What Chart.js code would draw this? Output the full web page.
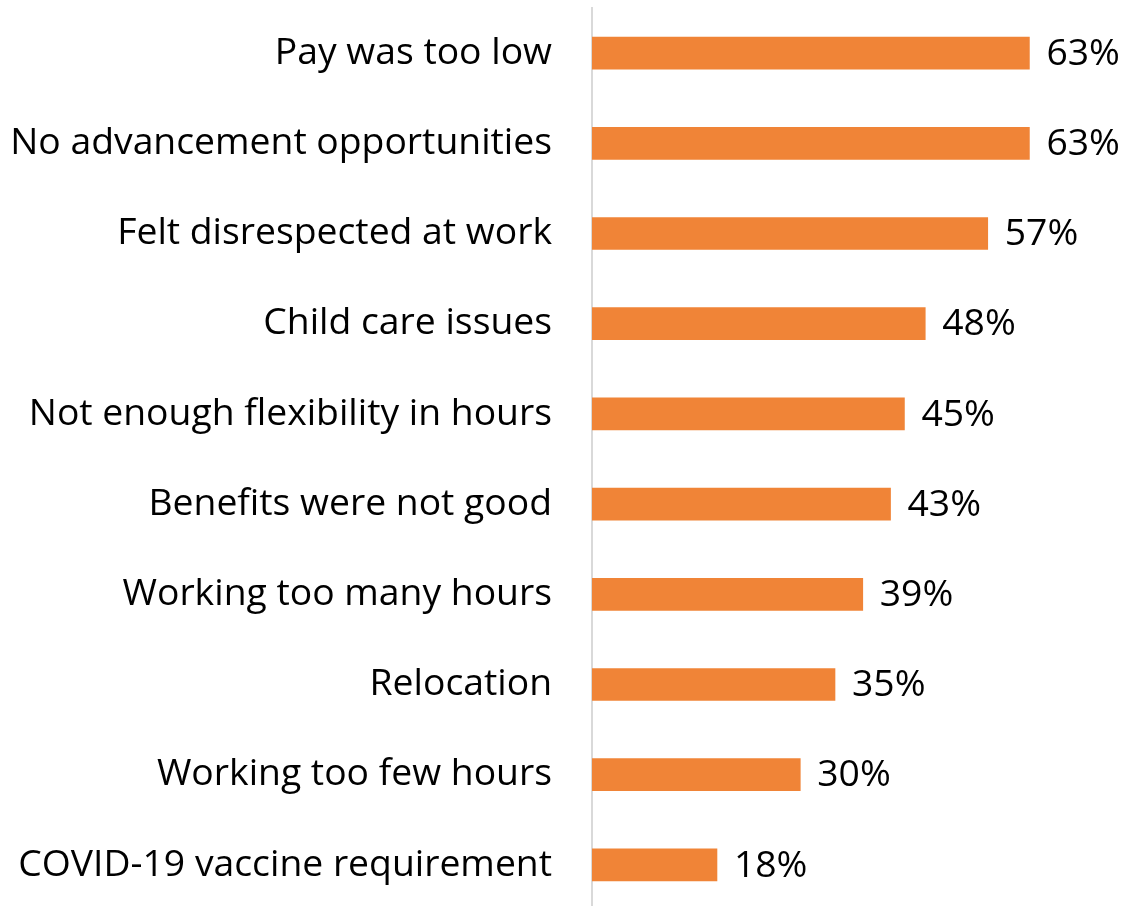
<!DOCTYPE html>
<html>
<head>
<meta charset="utf-8">
<script src="https://cdn.jsdelivr.net/npm/chart.js@4.4.1/dist/chart.umd.min.js"></script>
<style>
html,body{margin:0;padding:0;background:#fff;overflow:hidden;}
#wrap{width:1122px;height:906px;overflow:hidden;}
</style>
</head>
<body>
<div id="wrap"><canvas id="c" width="1122" height="912"></canvas></div>
<script>
const categories = [
  "Pay was too low",
  "No advancement opportunities",
  "Felt disrespected at work",
  "Child care issues",
  "Not enough flexibility in hours",
  "Benefits were not good",
  "Working too many hours",
  "Relocation",
  "Working too few hours",
  "COVID-19 vaccine requirement"
];
const values = [63, 63, 57, 48, 45, 43, 39, 35, 30, 18];
const valueLabels = ["63%", "63%", "57%", "48%", "45%", "43%", "39%", "35%", "30%", "18%"];

const FONT = "'Open Sans', 'DejaVu Sans', sans-serif";

const valueLabelPlugin = {
  id: 'valueLabels',
  afterDatasetsDraw(chart) {
    const ctx = chart.ctx;
    const meta = chart.getDatasetMeta(0);
    ctx.save();
    ctx.font = "37.3px " + FONT;
    ctx.fillStyle = "#000";
    ctx.textAlign = "left";
    ctx.textBaseline = "middle";
    meta.data.forEach((bar, i) => {
      ctx.fillText(valueLabels[i], bar.x + 17, bar.y + 1);
    });
    ctx.restore();
  }
};

new Chart(document.getElementById('c'), {
  type: 'bar',
  data: {
    labels: categories,
    datasets: [{
      data: values,
      backgroundColor: '#F08437',
      borderWidth: 0,
      barThickness: 32
    }]
  },
  options: {
    indexAxis: 'y',
    responsive: false,
    animation: false,
    layout: { padding: { top: 8, bottom: 2, left: 0, right: 44 } },
    plugins: { legend: { display: false }, tooltip: { enabled: false } },
    scales: {
      x: { display: false, min: 0, max: 70 },
      y: {
        grid: { display: false, drawTicks: false },
        border: { display: true, color: '#d9d9d9', width: 2 },
        ticks: {
          color: '#000',
          padding: 40,
          font: { family: FONT, size: 37.3 }
        },
        afterFit(scale) {
          scale.width = 592;
          scale.paddingTop = 0;
          scale.paddingBottom = 0;
        }
      }
    }
  },
  plugins: [valueLabelPlugin]
});
</script>
</body>
</html>
